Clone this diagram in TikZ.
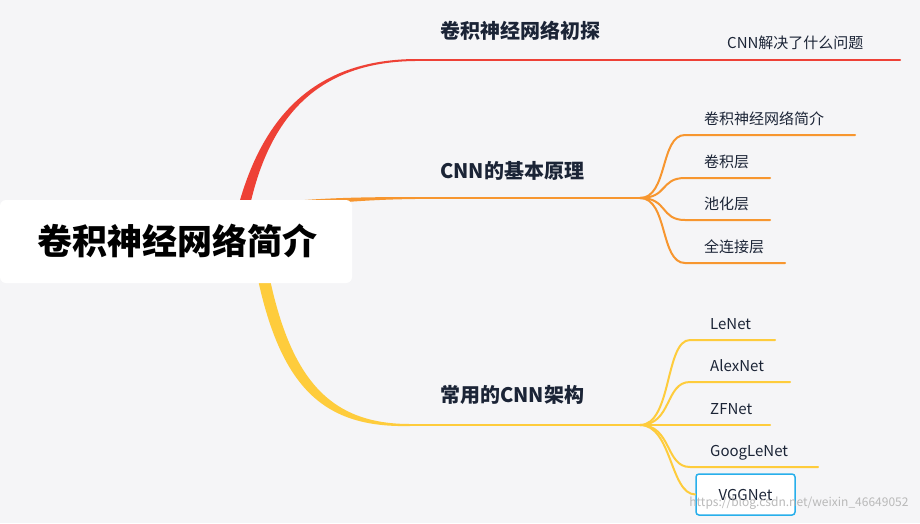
\documentclass[tikz,border=0pt]{standalone}
\usepackage{fontspec}
\setmainfont{Noto Sans CJK SC}
\begin{document}
\begin{tikzpicture}[x=1pt,y=-1pt,
  lbl/.style={font=\fontsize{15}{17}\selectfont, text=txt, anchor=base west, inner sep=0},
  head/.style={font=\bfseries\fontsize{20}{22}\selectfont, text=txt, anchor=base west, inner sep=0},
  br/.style={line cap=round, line width=2pt}]
\definecolor{txt}{HTML}{1B2436}
\definecolor{cr}{HTML}{EE4136}
\definecolor{co}{HTML}{F7962F}
\definecolor{cy}{HTML}{FECC3C}
\definecolor{bg}{HTML}{F5F5F7}
\useasboundingbox (0,0) rectangle (920,523);
\fill[bg] (0,0) rectangle (920,523);
% red
\coordinate (r1) at (415,60); \coordinate (r2) at (900,60);
\fill[cr] (236,215) .. controls (262,110) and (320,60) .. (415,59) -- (415,61) .. controls (322,62) and (268,112) .. (248,215) -- cycle;
\draw[cr,br] (r1) -- (r2);
\node[head] (h1) at (440,38) {卷积神经网络初探};
\node[lbl] (c11) at (727,48) {CNN解决了什么问题};
% orange
\coordinate (o1) at (415,198); \coordinate (o2) at (640,198);
\fill[co] (240,208) .. controls (290,199) and (340,197) .. (415,197) -- (415,199) .. controls (340,200) and (295,207) .. (248,216) -- cycle;
\draw[co,br] (o1) -- (o2);
\node[head] (h2) at (440,178) {CNN的基本原理};
\foreach \n/\y/\e/\t in {a/135/855/卷积神经网络简介, b/178/770/卷积层, c/220/770/池化层, d/263/785/全连接层}{
  \coordinate (e\n) at (685,\y); \coordinate (f\n) at (\e,\y);
  \draw[co,br] (o2) .. controls (668,198) and (660,\y) .. (e\n) -- (f\n);
  \node[lbl] (t\n) at (704,\y-11) {\t};
}
% yellow
\coordinate (y1) at (410,425); \coordinate (y2) at (640,425);
\fill[cy] (268,270) .. controls (290,380) and (330,424) .. (410,424) -- (410,426) .. controls (325,428) and (280,390) .. (256,270) -- cycle;
\draw[cy,br] (y1) -- (y2);
\node[head] (h3) at (440,402) {常用的CNN架构};
\foreach \n/\y/\e/\t in {a/340/775/LeNet, b/382/790/AlexNet, c/425/770/ZFNet, d/467/818/GoogLeNet}{
  \coordinate (g\n) at (690,\y); \coordinate (k\n) at (\e,\y);
  \draw[cy,br] (y2) .. controls (672,425) and (665,\y) .. (g\n) -- (k\n);
  \node[lbl] (u\n) at (710,\y-11) {\t};
}
\node[draw={rgb,255:red,40;green,175;blue,235}, line width=1.5pt, rounded corners=3pt, minimum width=99pt, minimum height=41pt, fill=white, font=\fontsize{15}{17}\selectfont, text=txt] (vgg) at (745.5,494.5) {VGGNet};
\draw[cy,br] (y2) .. controls (672,425) and (670,494) .. (vgg.west);
% root on top
\node[fill=white, rounded corners=6pt, minimum width=352pt, minimum height=83pt, inner sep=0] (root) at (176,241.5) {};
\node[font=\bfseries\fontsize{35}{40}\selectfont, text=black] (rt) at (177,241) {卷积神经网络简介};
\node[font=\fontsize{12}{14}\selectfont, text=gray!55, anchor=east] (wm) at (912,503) {https://blog.csdn.net/weixin\_46649052};
\end{tikzpicture}
\end{document}
